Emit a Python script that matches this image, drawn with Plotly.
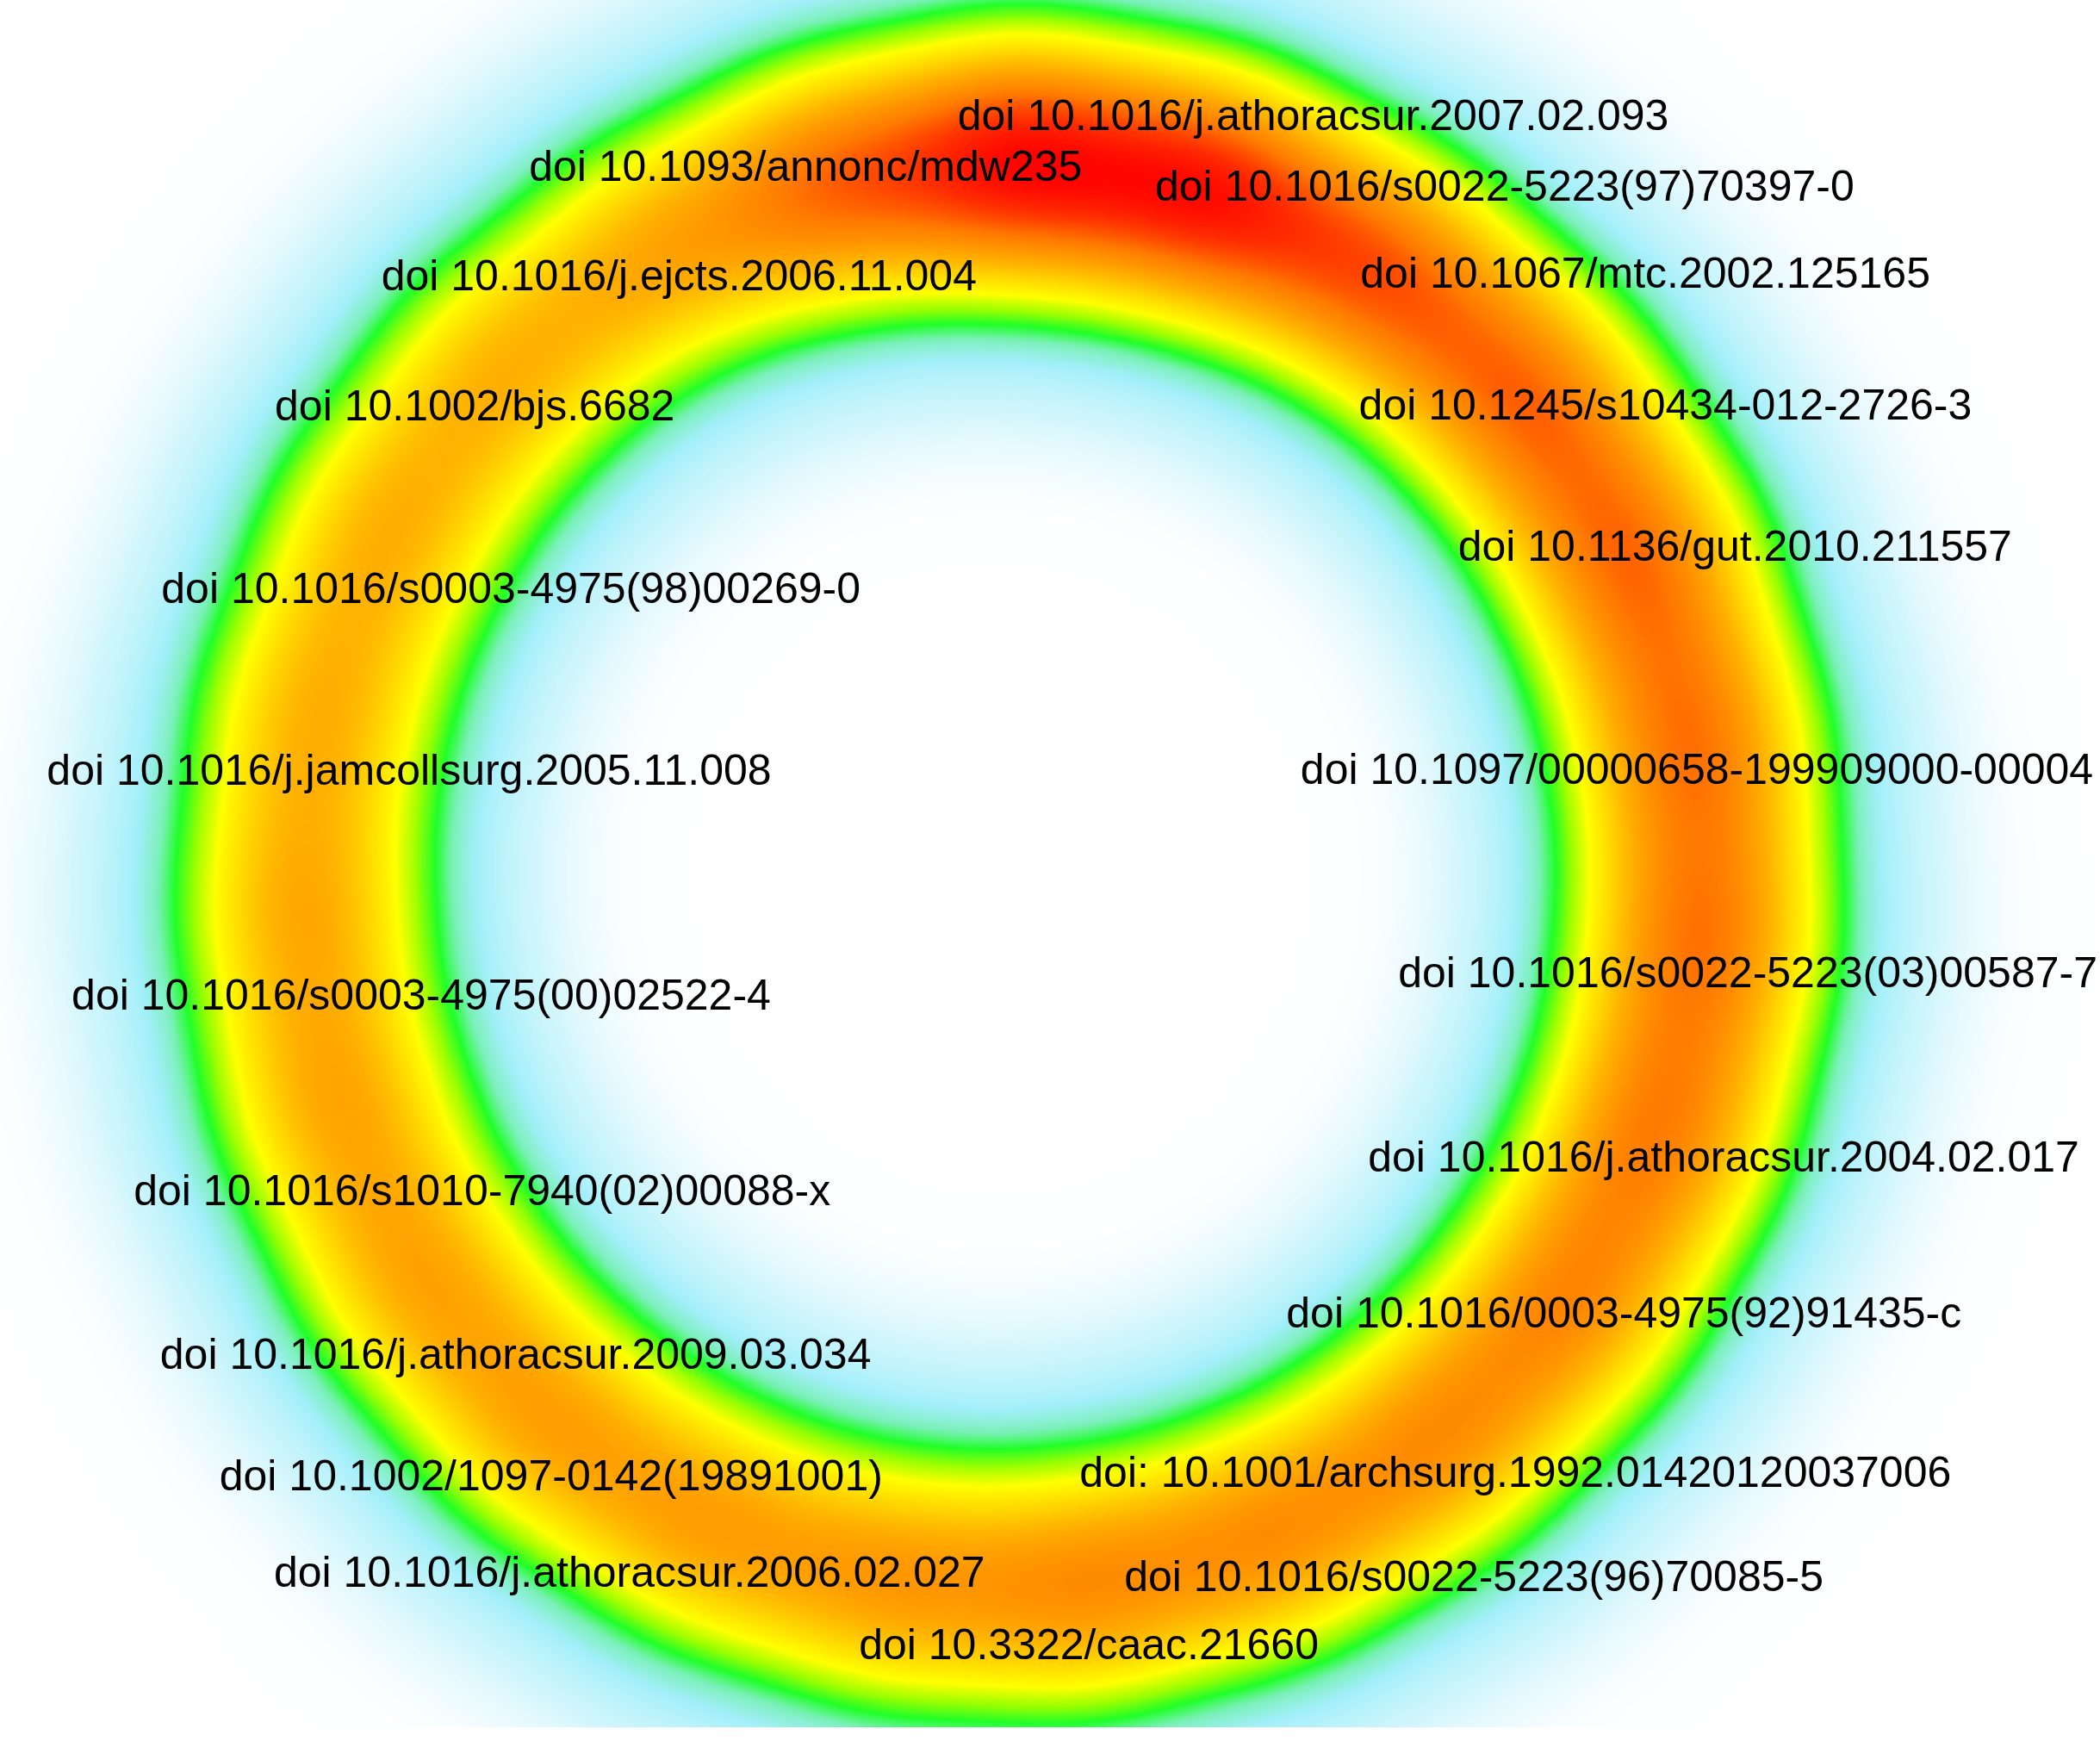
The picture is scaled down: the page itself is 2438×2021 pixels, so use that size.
import numpy as np
import plotly.graph_objects as go

# ---- data (map coordinates, origin top-left) ----
labels = [
    "doi 10.1016/j.athoracsur.2007.02.093",
    "doi 10.1093/annonc/mdw235",
    "doi 10.1016/s0022-5223(97)70397-0",
    "doi 10.1016/j.ejcts.2006.11.004",
    "doi 10.1067/mtc.2002.125165",
    "doi 10.1002/bjs.6682",
    "doi 10.1245/s10434-012-2726-3",
    "doi 10.1136/gut.2010.211557",
    "doi 10.1016/s0003-4975(98)00269-0",
    "doi 10.1016/j.jamcollsurg.2005.11.008",
    "doi 10.1097/00000658-199909000-00004",
    "doi 10.1016/s0003-4975(00)02522-4",
    "doi 10.1016/s0022-5223(03)00587-7",
    "doi 10.1016/s1010-7940(02)00088-x",
    "doi 10.1016/j.athoracsur.2004.02.017",
    "doi 10.1016/0003-4975(92)91435-c",
    "doi 10.1016/j.athoracsur.2009.03.034",
    "doi 10.1002/1097-0142(19891001)",
    "doi: 10.1001/archsurg.1992.01420120037006",
    "doi 10.1016/j.athoracsur.2006.02.027",
    "doi 10.1016/s0022-5223(96)70085-5",
    "doi 10.3322/caac.21660",
]
label_x = [980.5, 601.5, 1123.5, 507, 1228.5, 354.5, 1243.5, 1295.5, 381.5, 305.5, 1267,
           314.5, 1305, 360, 1287, 1212.5, 385, 411.5, 1131.5, 470, 1100.5, 813]
label_y = [85, 123, 138, 205, 203, 302, 301, 407, 438, 574, 573,
           742, 725, 888, 863, 979, 1010, 1101, 1098, 1173, 1176, 1227]

# density items (kernel centres) and weights
item_x = [760.4, 901.8, 1031.9, 1141.0, 1220.8, 1265.8, 1272.3, 1240.1, 1171.4, 1071.2, 947.2, 808.5,
          665.3, 528.3, 407.6, 312.3, 249.1, 223.1, 236.0, 287.0, 372.0, 485.1, 617.7]
item_y = [118.2, 141.3, 202.4, 297.1, 418.2, 556.8, 702.6, 844.8, 972.8, 1077.3, 1150.3, 1186.5,
          1183.2, 1140.7, 1062.2, 953.6, 822.3, 678.8, 533.4, 397.0, 279.7, 189.9, 134.8]
item_w = [1.0, 0.97, 0.83, 0.81, 0.81, 0.79, 0.79, 0.77, 0.74, 0.72, 0.71, 0.72,
          0.68, 0.67, 0.67, 0.66, 0.66, 0.65, 0.63, 0.63, 0.62, 0.63, 0.8]

W, H = 1568, 1300
KERNEL = 76.0
TEXT_DY = 4  # baseline correction for centred text

gx = np.arange(0, W + 1, 4.0)
gy = np.arange(0, 1292, 4.0)
X, Y = np.meshgrid(gx, gy)
Z = np.zeros_like(X)
for x0, y0, w in zip(item_x, item_y, item_w):
    Z += w * np.exp(-((X - x0) ** 2 + (Y - y0) ** 2) / (2 * KERNEL ** 2))
Z = Z / Z.max()

colorscale = [
    [0.0, "#ffffff"], [0.004, "#fbfeff"], [0.015, "#eefbfe"], [0.05, "#d2f6fc"],
    [0.16, "#a2eff9"], [0.23, "#7af0b8"], [0.29, "#20ff28"], [0.36, "#9cff00"],
    [0.44, "#ffff00"], [0.55, "#ffd200"], [0.63, "#ffb000"], [0.78, "#ff7a00"],
    [0.9, "#ff3000"], [1.0, "#ff0000"],
]

fig = go.Figure()
fig.add_trace(go.Heatmap(x=gx, y=gy, z=Z, colorscale=colorscale, zmin=0, zmax=1,
                         zsmooth="best", showscale=False, hoverinfo="skip"))
fig.add_trace(go.Scatter(x=label_x, y=[v + TEXT_DY for v in label_y], text=labels, mode="text",
                         textposition="middle center", cliponaxis=False,
                         textfont=dict(family="Liberation Sans, Arial, sans-serif", size=50, color="black"),
                         hoverinfo="skip", showlegend=False))
fig.update_layout(
    width=2438, height=2021, margin=dict(l=0, r=0, t=0, b=0),
    paper_bgcolor="white", plot_bgcolor="white", showlegend=False,
    xaxis=dict(range=[0, W], visible=False, fixedrange=True),
    yaxis=dict(range=[H, 0], visible=False, fixedrange=True),
)
fig.write_html("out.html", config={"displayModeBar": False},
               post_script="document.body.style.margin='0';document.body.style.overflow='hidden';")
